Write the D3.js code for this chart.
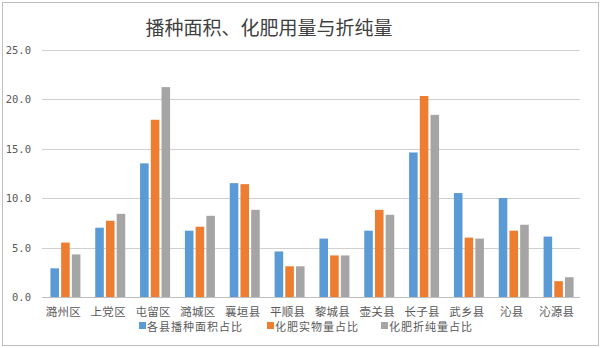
<!DOCTYPE html>
<html><head><meta charset="utf-8">
<script src="https://cdn.jsdelivr.net/npm/d3@7"></script>
<style>body{margin:0;background:#fff;}</style>
</head><body>
<svg id="c" width="602" height="348"></svg>
<script>
const title = "播种面积、化肥用量与折纯量";
const categories = ["潞州区","上党区","屯留区","潞城区","襄垣县","平顺县","黎城县","壶关县","长子县","武乡县","沁县","沁源县"];
const seriesNames = ["各县播种面积占比","化肥实物量占比","化肥折纯量占比"];
const areaShare = [2.9,7.0,13.5,6.7,11.5,4.6,5.9,6.7,14.6,10.5,10.0,6.1];
const fertShare = [5.5,7.7,17.9,7.1,11.4,3.1,4.2,8.8,20.3,6.0,6.7,1.6];
const pureShare = [4.3,8.4,21.2,8.2,8.8,3.1,4.2,8.3,18.4,5.9,7.3,2.0];
const yTicks = [0,5,10,15,20,25];
const colors = ["#5B9BD5","#ED7D31","#A5A5A5"];

const svg = d3.select("#c");
svg.append("rect").attr("x",2.5).attr("y",2.5).attr("width",596).attr("height",343)
  .attr("fill","#fff").attr("stroke","#BFBFBF");

svg.append("text").attr("x",269).attr("y",35).attr("text-anchor","middle")
  .attr("font-family","'Noto Sans CJK SC'").attr("font-size",19).attr("fill","#404040").text(title);

const x = d3.scaleBand().domain(categories).range([42,580]);
const y = d3.scaleLinear().domain([0,25]).range([297,49.5]);
const xs = d3.scaleBand().domain([0,1,2]).range([-14,16]).paddingInner(0.2);

const g = svg.append("g");
g.selectAll("line.grid").data(yTicks).join("line")
  .attr("x1",42).attr("x2",580)
  .attr("y1",d=>Math.round(y(d))+0.5).attr("y2",d=>Math.round(y(d))+0.5)
  .attr("stroke",d=>d===0?"#BFBFBF":"#D0D0D0").attr("stroke-width",1);
g.selectAll("text.tick").data(yTicks).join("text")
  .attr("x",31).attr("y",d=>y(d)+4).attr("text-anchor","end")
  .attr("font-family","'DejaVu Sans Mono'").attr("font-size",10.5).attr("fill","#595959")
  .text(d=>d3.format(".1f")(d));

const series = [areaShare, fertShare, pureShare];
series.forEach((vals,si)=>{
  g.selectAll("rect.s"+si).data(vals).join("rect")
    .attr("x",(d,i)=>x(categories[i])+x.bandwidth()/2+xs(si))
    .attr("width",xs.bandwidth())
    .attr("y",d=>y(d)).attr("height",d=>y(0)-y(d))
    .attr("fill",colors[si]);
});

g.selectAll("text.cat").data(categories).join("text")
  .attr("x",d=>x(d)+x.bandwidth()/2-1).attr("y",315.5)
  .attr("text-anchor","middle").attr("font-family","'Noto Sans CJK SC'")
  .attr("font-size",11.5).attr("letter-spacing",0.3).attr("fill","#595959").text(d=>d);

const legX = [139,267,381];
const leg = svg.append("g");
seriesNames.forEach((n,i)=>{
  leg.append("rect").attr("x",legX[i]).attr("y",322).attr("width",7).attr("height",7).attr("fill",colors[i]);
  leg.append("text").attr("x",legX[i]+8).attr("y",331).attr("font-family","'Noto Sans CJK SC'")
    .attr("font-size",11).attr("letter-spacing",1).attr("fill","#595959").text(n);
});
</script>
</body></html>
